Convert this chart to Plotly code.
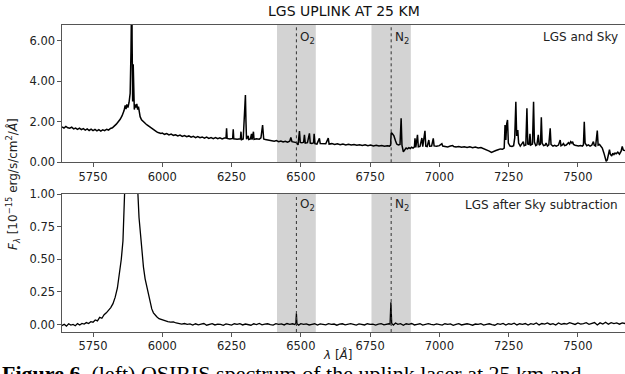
import plotly.graph_objects as go

# ---------------- data ----------------
wave_top = [5638, 5645, 5652, 5659, 5666, 5673, 5680, 5687, 5694, 5701, 5708, 5715, 5722, 5729, 5736, 5743,
            5750, 5757, 5764, 5771, 5778, 5785, 5792, 5799, 5806, 5813, 5820, 5827, 5834, 5841, 5848, 5855,
            5862, 5866, 5869, 5872, 5876, 5880, 5884, 5887, 5889, 5890, 5891, 5893, 5895, 5897, 5899, 5902,
            5905, 5908, 5911, 5914, 5917, 5920, 5925, 5930, 5935, 5940, 5945, 5950, 5955, 5960, 5965, 5970,
            5975, 5980, 5985, 5990, 5995, 6000, 6008, 6016, 6024, 6032, 6040, 6048, 6056, 6064, 6072, 6080,
            6088, 6096, 6104, 6112, 6120, 6128, 6136, 6144, 6152, 6160, 6168, 6176, 6184, 6192, 6200, 6208,
            6216, 6224, 6230, 6232, 6234, 6244, 6254, 6256, 6258, 6270, 6282, 6284, 6286, 6292, 6296, 6300,
            6302, 6304, 6310, 6312, 6318, 6322, 6324, 6329, 6331, 6340, 6350, 6356, 6362, 6364, 6366, 6372,
            6380, 6388, 6396, 6404, 6412, 6420, 6428, 6436, 6444, 6452, 6460, 6464, 6468, 6476, 6484, 6490,
            6495, 6498, 6504, 6510, 6513, 6516, 6524, 6531, 6534, 6540, 6546, 6548, 6551, 6558, 6567, 6570,
            6580, 6590, 6599, 6602, 6612, 6622, 6632, 6642, 6652, 6662, 6672, 6682, 6692, 6702, 6712, 6722,
            6732, 6742, 6752, 6762, 6772, 6782, 6792, 6802, 6812, 6820, 6824, 6826, 6830, 6836, 6842, 6846,
            6852, 6858, 6862, 6865, 6870, 6875, 6880, 6885, 6890, 6895, 6900, 6905, 6910, 6912, 6915, 6921,
            6924, 6930, 6937, 6940, 6948, 6951, 6956, 6962, 6965, 6972, 6978, 6981, 6990, 7000, 7009, 7012,
            7020, 7030, 7040, 7048, 7052, 7060, 7070, 7080, 7090, 7100, 7110, 7120, 7130, 7140, 7150, 7160,
            7170, 7180, 7188, 7196, 7204, 7212, 7220, 7228, 7234, 7237, 7240, 7243, 7246, 7249, 7255, 7262,
            7268, 7272, 7276, 7279, 7283, 7286, 7292, 7297, 7303, 7306, 7312, 7316, 7319, 7324, 7327, 7330,
            7336, 7340, 7343, 7348, 7352, 7357, 7360, 7365, 7368, 7371, 7376, 7382, 7385, 7390, 7395, 7400,
            7403, 7410, 7416, 7422, 7430, 7436, 7439, 7444, 7448, 7452, 7458, 7466, 7470, 7474, 7478, 7481,
            7484, 7490, 7496, 7502, 7510, 7516, 7520, 7523, 7526, 7532, 7538, 7544, 7550, 7556, 7559, 7564,
            7570, 7573, 7578, 7583, 7588, 7594, 7598, 7602, 7606, 7610, 7614, 7617, 7622, 7626, 7630, 7634,
            7638, 7644, 7650, 7656, 7660, 7664, 7670]
flux_top = [1.74, 1.69, 1.77, 1.70, 1.68, 1.73, 1.65, 1.69, 1.62, 1.68, 1.61, 1.66, 1.59, 1.65, 1.57, 1.63,
            1.56, 1.62, 1.55, 1.61, 1.54, 1.60, 1.56, 1.63, 1.59, 1.67, 1.70, 1.78, 1.88, 2.00, 2.12, 2.30,
            2.55, 2.80, 2.62, 2.85, 2.70, 2.95, 3.40, 5.50, 9.00, 9.00, 6.00, 3.00, 4.83, 3.20, 2.60, 2.85,
            2.70, 2.88, 2.60, 2.75, 2.40, 2.25, 2.10, 2.02, 1.96, 1.90, 1.84, 1.79, 1.75, 1.68, 1.62, 1.57,
            1.53, 1.50, 1.47, 1.45, 1.42, 1.44, 1.38, 1.42, 1.35, 1.39, 1.33, 1.36, 1.30, 1.34, 1.28, 1.32,
            1.26, 1.30, 1.24, 1.28, 1.22, 1.27, 1.21, 1.25, 1.19, 1.24, 1.18, 1.22, 1.17, 1.22, 1.16, 1.21,
            1.15, 1.20, 1.20, 1.68, 1.18, 1.15, 1.18, 1.63, 1.16, 1.14, 1.16, 1.51, 1.12, 1.15, 2.40, 3.32,
            2.00, 1.14, 1.30, 1.12, 1.15, 1.40, 1.12, 1.51, 1.13, 1.16, 1.14, 1.20, 1.84, 1.45, 1.15, 1.12,
            1.10, 1.07, 1.08, 1.04, 1.07, 1.02, 1.05, 1.00, 1.04, 0.99, 1.04, 1.23, 1.02, 0.99, 0.97, 0.86,
            1.54, 0.98, 0.96, 0.99, 1.35, 0.95, 0.97, 1.43, 0.95, 0.93, 0.96, 1.40, 0.92, 0.90, 1.18, 0.92,
            0.93, 0.91, 1.19, 0.90, 0.92, 0.88, 0.91, 0.87, 0.90, 0.86, 0.89, 0.85, 0.88, 0.84, 0.87, 0.83,
            0.86, 0.82, 0.85, 0.81, 0.84, 0.80, 0.83, 0.79, 0.82, 0.80, 0.85, 1.46, 1.42, 1.30, 1.05, 0.90,
            0.86, 0.88, 2.17, 0.85, 0.52, 0.62, 0.70, 0.66, 0.72, 0.68, 0.74, 0.70, 0.76, 1.18, 0.74, 1.35,
            0.76, 0.78, 1.20, 0.77, 1.55, 0.80, 0.78, 1.10, 0.79, 0.80, 1.18, 0.81, 0.79, 0.82, 0.92, 0.80,
            0.79, 0.76, 0.80, 0.83, 0.78, 0.75, 0.78, 0.74, 0.77, 0.73, 0.76, 0.72, 0.75, 0.71, 0.73, 0.68,
            0.62, 0.55, 0.49, 0.52, 0.58, 0.62, 0.66, 0.64, 0.70, 1.84, 1.10, 1.90, 2.09, 0.95, 0.80, 0.78,
            0.82, 1.20, 2.99, 1.30, 1.59, 0.95, 0.80, 0.90, 1.02, 0.82, 0.85, 2.66, 0.90, 0.88, 1.40, 0.85,
            0.90, 2.99, 1.00, 0.82, 0.86, 1.35, 0.85, 0.90, 2.22, 0.95, 0.82, 0.85, 0.95, 0.80, 0.86, 1.68,
            0.88, 0.80, 0.84, 0.80, 0.85, 1.10, 0.82, 0.86, 0.92, 0.82, 0.85, 0.97, 0.90, 1.02, 0.95, 1.02,
            0.88, 0.84, 0.82, 0.80, 0.83, 0.80, 0.86, 2.00, 0.95, 0.82, 0.86, 0.80, 0.84, 1.02, 0.84, 0.80,
            1.56, 0.85, 0.88, 0.80, 0.70, 0.45, 0.22, 0.05, 0.12, 0.35, 0.62, 0.40, 0.31, 0.45, 0.38, 0.46,
            0.42, 0.50, 0.40, 0.55, 0.78, 0.60, 0.58]

wave_bot = [5638, 5646, 5654, 5662, 5670, 5678, 5686, 5694, 5702, 5710, 5718, 5726, 5734, 5742, 5750, 5758,
            5766, 5774, 5782, 5790, 5798, 5806, 5814, 5822, 5830, 5838, 5846, 5852, 5858, 5864, 5868, 5872,
            5878, 5885, 5890, 5896, 5902, 5908, 5912, 5916, 5920, 5926, 5932, 5938, 5944, 5950, 5956, 5962,
            5968, 5974, 5980, 5988, 5996, 6004, 6012, 6020, 6030, 6040, 6050, 6060, 6070, 6080, 6090, 6100,
            6110, 6120, 6130, 6140, 6150, 6160, 6170, 6180, 6190, 6200, 6210, 6220, 6230, 6240, 6250, 6260,
            6270, 6280, 6290, 6300, 6310, 6320, 6330, 6340, 6350, 6360, 6370, 6380, 6390, 6400, 6410, 6420,
            6430, 6440, 6450, 6460, 6470, 6478, 6482, 6484, 6486, 6492, 6500, 6510, 6520, 6530, 6540, 6550,
            6560, 6570, 6580, 6590, 6600, 6610, 6620, 6630, 6640, 6650, 6660, 6670, 6680, 6690, 6700, 6710,
            6720, 6730, 6740, 6750, 6760, 6770, 6780, 6790, 6800, 6810, 6818, 6822, 6825, 6828, 6834, 6842,
            6850, 6860, 6870, 6880, 6890, 6900, 6910, 6920, 6930, 6940, 6950, 6960, 6970, 6980, 6990, 7000,
            7010, 7020, 7030, 7040, 7050, 7060, 7070, 7080, 7090, 7100, 7110, 7120, 7130, 7140, 7150, 7160,
            7170, 7180, 7190, 7200, 7210, 7220, 7230, 7240, 7250, 7260, 7270, 7280, 7290, 7300, 7310, 7320,
            7330, 7340, 7350, 7360, 7370, 7380, 7390, 7400, 7410, 7420, 7430, 7440, 7450, 7460, 7470, 7480,
            7490, 7500, 7510, 7520, 7530, 7540, 7550, 7560, 7570, 7580, 7590, 7600, 7610, 7620, 7630, 7640,
            7650, 7660, 7670]
flux_bot = [-0.008, 0.002, -0.012, 0.006, -0.004, 0.001, -0.009, 0.007, -0.003, 0.009, 0.004, 0.015, 0.008, 0.022, 0.018, 0.035,
            0.028, 0.055, 0.048, 0.075, 0.09, 0.11, 0.13, 0.16, 0.21, 0.28, 0.40, 0.50, 0.64, 0.82, 1.00, 1.50,
            2.50, 5.00, 8.00, 6.00, 3.00, 1.60, 1.00, 0.82, 0.72, 0.56, 0.44, 0.35, 0.29, 0.22, 0.16, 0.12,
            0.09, 0.07, 0.06, 0.045, 0.038, 0.03, 0.028, 0.022, 0.018, 0.02, 0.012, 0.01, 0.004, 0.008, 0.002, 0.005,
            -0.004, 0.006, -0.002, 0.003, 0.008, -0.005, 0.002, 0.007, -0.003, 0.004, 0.001, -0.006, 0.005, 0.002, -0.004, 0.006,
            0.001, 0.007, -0.003, 0.004, 0.002, -0.005, 0.006, 0.000, 0.008, -0.002, 0.003, 0.006, -0.001, -0.004, 0.007, 0.002,
            0.005, -0.003, 0.008, 0.002, 0.006, 0.001, 0.008, 0.085, 0.006, -0.004, 0.007, 0.001, 0.005, -0.003, 0.002, 0.006,
            -0.004, 0.005, 0.002, -0.002, 0.007, 0.001, 0.004, -0.005, 0.003, 0.006, -0.002, 0.001, 0.007, 0.002, -0.004, 0.005,
            0.001, -0.003, 0.006, 0.002, 0.004, -0.004, 0.003, 0.007, -0.002, 0.004, 0.006, 0.004, 0.17, 0.008, -0.004, 0.012,
            0.002, 0.007, -0.005, 0.006, 0.001, 0.008, -0.003, 0.002, 0.006, -0.004, 0.003, 0.007, 0.001, -0.003, 0.005, 0.002,
            -0.004, 0.006, 0.001, 0.005, -0.006, 0.002, 0.007, -0.003, 0.001, 0.006, 0.002, -0.005, 0.004, 0.001, 0.007, -0.004,
            0.002, 0.006, 0.000, -0.005, 0.007, 0.002, 0.009, -0.004, 0.006, 0.001, 0.011, -0.003, 0.006, 0.002, 0.008, -0.004,
            0.007, 0.002, 0.012, -0.003, 0.008, 0.003, 0.013, 0.001, 0.007, -0.004, 0.012, 0.002, 0.008, 0.003, 0.014, 0.006,
            0.001, 0.012, 0.003, 0.008, 0.014, 0.002, 0.009, 0.015, -0.003, 0.013, 0.004, 0.018, 0.003, 0.014, 0.007, 0.012,
            0.003, 0.013, 0.008]

x_ticks = [5750, 6000, 6250, 6500, 6750, 7000, 7250, 7500]
top_y_ticks = [0, 2, 4, 6]
bot_y_ticks = [0, 0.25, 0.5, 0.75, 1.0]
line_centres = {"O<sub>2</sub>": 6484, "N<sub>2</sub>": 6826}
band_edges = [(6414, 6554), (6755, 6897)]
x_range = [5638, 7670]

# ---------------- figure ----------------
W, H = 625, 374
ml, mr, mt, mb = 62, 0, 25, 42
ph = H - mt - mb

def py(pix):
    return (H - mb - pix) / ph

def px(pix):
    return (pix - ml) / (W - ml - mr)

fig = go.Figure()
fig.add_trace(go.Scatter(x=wave_top, y=flux_top, mode="lines", xaxis="x", yaxis="y",
                         line=dict(color="black", width=1.5), showlegend=False))
fig.add_trace(go.Scatter(x=wave_bot, y=flux_bot, mode="lines", xaxis="x2", yaxis="y2",
                         line=dict(color="black", width=1.3), showlegend=False))

spine = "#555555"
axis_common = dict(showline=True, linecolor=spine, linewidth=1.3, ticks="outside", ticklen=3.5,
                   tickcolor=spine, showgrid=False, zeroline=False,
                   tickfont=dict(family="DejaVu Sans", size=11.5, color="#222"))

fig.update_layout(
    width=W, height=H, margin=dict(l=ml, r=mr, t=mt, b=mb),
    paper_bgcolor="white", plot_bgcolor="white",
    xaxis=dict(domain=[0, 1], anchor="y", range=x_range, tickvals=x_ticks, mirror=True, **axis_common),
    yaxis=dict(domain=[py(162.3), 1], anchor="x", range=[0, 6.77], tickvals=top_y_ticks,
               tickformat=".2f", **axis_common),
    xaxis2=dict(domain=[0, 1], anchor="y2", range=x_range, tickvals=x_ticks, mirror=True,
                ticklabelstandoff=0, **axis_common),
    yaxis2=dict(domain=[0, py(194)], anchor="x2", range=[-0.057, 1.0], tickvals=bot_y_ticks,
                tickformat=".2f", **axis_common),
)

shapes = []
for xr, yr in (("x", "y"), ("x2", "y2")):
    for lo, hi in band_edges:
        shapes.append(dict(type="rect", xref=xr, yref=f"{yr} domain", x0=lo, x1=hi, y0=0, y1=1,
                           fillcolor="#d3d3d3", line=dict(width=0), layer="below"))
    for name, c in line_centres.items():
        shapes.append(dict(type="line", xref=xr, yref=f"{yr} domain", x0=c, x1=c, y0=0, y1=1,
                           line=dict(color="#333", width=1, dash="dot"), layer="above"))
fig.update_layout(shapes=shapes)

ann = []
lab_font = dict(family="DejaVu Sans", size=12, color="#222")
for name, c in line_centres.items():
    for yr, ypix in (("y", 38), ("y2", 205)):
        ann.append(dict(text=name, x=c + 7, xref="x", y=py(ypix), yref="paper",
                        xanchor="left", yanchor="middle", showarrow=False, font=lab_font))
ann.append(dict(text="LGS and Sky", x=px(620), xref="paper", y=py(37), yref="paper",
                xanchor="right", yanchor="middle", showarrow=False, font=lab_font))
ann.append(dict(text="LGS after Sky subtraction", x=px(620), xref="paper", y=py(205), yref="paper",
                xanchor="right", yanchor="middle", showarrow=False, font=lab_font))
ann.append(dict(text="LGS UPLINK AT 25 KM", x=0.5, xref="paper", y=py(11), yref="paper",
                xanchor="center", yanchor="middle", showarrow=False,
                font=dict(family="DejaVu Sans", size=14, color="#111")))
ann.append(dict(text="<i>λ</i> [<i>Å</i>]", x=px(338), xref="paper", y=py(354), yref="paper",
                xanchor="center", yanchor="middle", showarrow=False, font=lab_font))
ann.append(dict(text="<i>F</i><sub><i>λ</i></sub> [10<sup>−15</sup> erg/s/cm<sup>2</sup>/<i>Å</i>]",
                x=px(13), xref="paper", y=py(184), yref="paper", textangle=-90,
                xanchor="center", yanchor="middle", showarrow=False, font=lab_font))
ann.append(dict(text="<b>Figure 6.</b> (left) OSIRIS spectrum of the uplink laser at 25 km and",
                x=px(0), xref="paper", y=py(359), yref="paper", xanchor="left", yanchor="top",
                showarrow=False, font=dict(family="Liberation Serif", size=22, color="black")))
fig.update_layout(annotations=ann)

fig.write_html("out.html")
